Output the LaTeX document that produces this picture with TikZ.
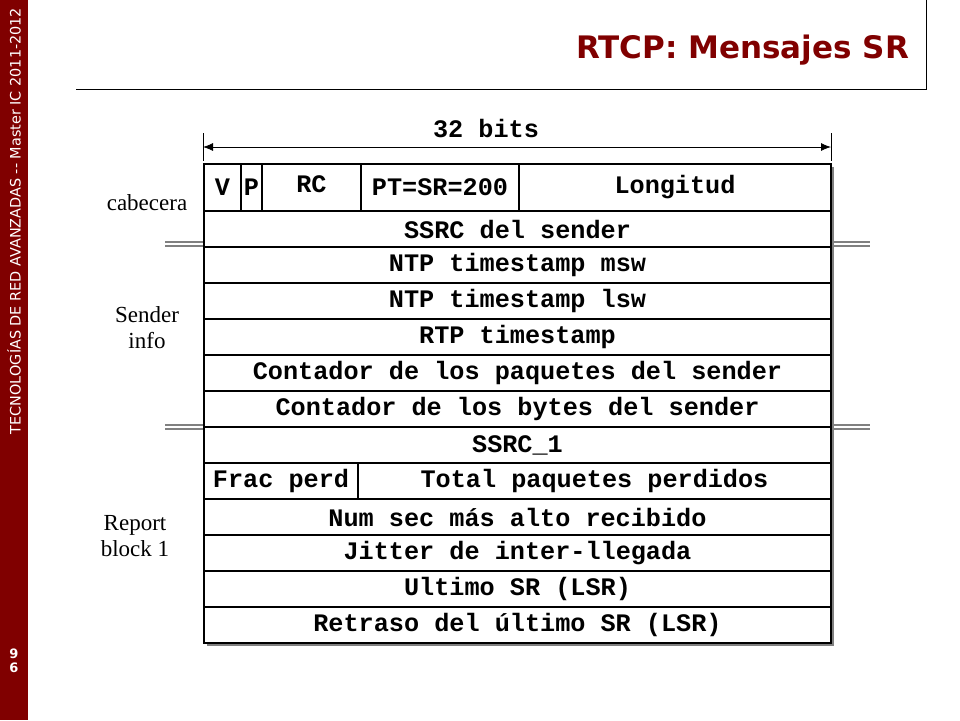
\documentclass[tikz,border=0pt]{standalone}
\usepackage{fontspec}
\setmainfont{Liberation Serif}
\newfontfamily\monofield{Liberation Mono}
\newfontfamily\sidefont{DejaVu Sans}
\usetikzlibrary{shadows,arrows.meta}
\definecolor{slidered}{RGB}{128,0,0}
\tikzset{
  field/.style={draw,line width=1.4pt,fill=white,inner sep=0pt,
    font=\monofield\bfseries\fontsize{12.6}{14}\selectfont,
    drop shadow={shadow xshift=1.3pt,shadow yshift=-1.3pt,fill=gray,opacity=1}},
  sidelabel/.style={align=center,font=\fontsize{11.5}{13}\selectfont},
  separator/.style={draw=gray,double=white,double distance=0.8pt,line width=1pt}
}
% field: name, x1, y1, x2, y2, text
\newcommand\field[6]{%
  \node[field,minimum width={(#4-#2)*0.5pt},minimum height={(#5-#3)*0.5pt}]
    (#1) at ({(#2+#4)/2},{(#3+#5)/2}) {#6};}
\begin{document}
\begin{tikzpicture}[x=0.5pt,y=-0.5pt]
\useasboundingbox (0,0) rectangle (960,720);
% side bar
\fill[slidered] (0,0) rectangle (28,720);
\node[rotate=90,text=white,font=\sidefont\fontsize{7.2}{8}\selectfont] (course) at (14,221)
  {TECNOLOGÍAS DE RED AVANZADAS -- Master  IC 2011-2012};
\node[text=white,font=\sidefont\bfseries\fontsize{6.5}{7}\selectfont,align=center] (page) at (14,661) {9\\[0pt]6};
% title
\draw (76,89) -- (926,89) -- (926,0);
\node[anchor=east,text=slidered,font=\sidefont\bfseries\fontsize{15.5}{17}\selectfont] (title) at (916,50) {RTCP: Mensajes SR};
% width arrow
\coordinate (wl) at (203,147);
\coordinate (wr) at (831,147);
\draw (203,133) -- (203,161) (831,133) -- (831,161);
\draw[{Latex[length=5pt,width=4pt]}-{Latex[length=5pt,width=4pt]}] (wl) -- (wr);
\node[font=\monofield\bfseries\fontsize{12.6}{14}\selectfont] (bits) at (486,129) {32 bits};
% separators
\draw[separator] (165,244) -- (870,244);
\draw[separator] (165,427) -- (870,427);
% header
\field{ver}{204}{164}{241}{211}{V}
\field{pad}{241}{164}{262}{211}{P}
\field{rc}{262}{164}{361}{211}{\raisebox{3pt}{RC}}
\field{pt}{361}{164}{519}{211}{PT=SR=200}
\field{len}{519}{164}{831}{211}{Longitud}
% full rows
\foreach \name/\top/\txt in {
  ssrc/211/SSRC del sender,
  msw/247/NTP timestamp msw,
  lsw/283/NTP timestamp lsw,
  rtp/319/RTP timestamp,
  pkts/355/Contador de los paquetes del sender,
  bytes/391/Contador de los bytes del sender,
  ssrca/427/SSRC\_1}
  {\field{\name}{204}{\top}{831}{\top+36}{\txt}}
\field{frac}{204}{463}{358}{499}{Frac perd}
\field{lost}{358}{463}{831}{499}{Total paquetes perdidos}
\foreach \name/\top/\txt in {
  seq/499/Num sec más alto recibido,
  jit/535/Jitter de inter-llegada,
  lsr/571/Ultimo SR (LSR),
  dlsr/607/Retraso del último SR (LSR)}
  {\field{\name}{204}{\top}{831}{\top+36}{\txt}}
% side labels
\node[sidelabel] (cab) at (147,203) {cabecera};
\node[sidelabel] (snd) at (147,328) {Sender\\info};
\node[sidelabel] (rep) at (135,536) {Report\\block 1};
\end{tikzpicture}
\end{document}
